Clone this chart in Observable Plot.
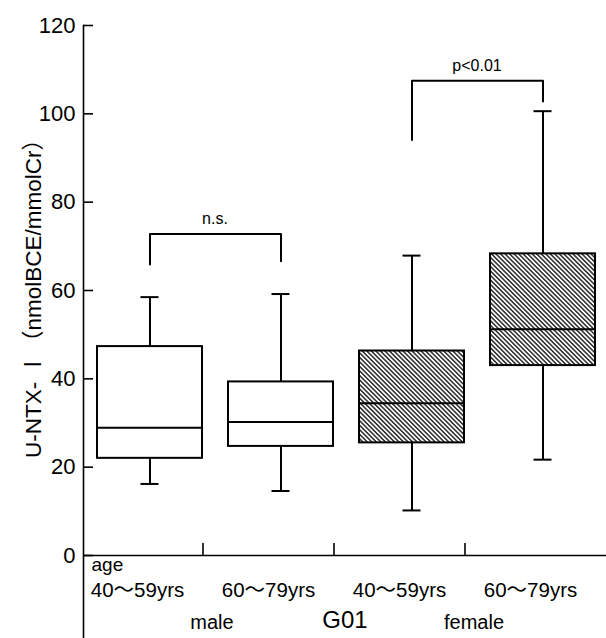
<!DOCTYPE html>
<html><head><meta charset="utf-8">
<script src="https://cdn.jsdelivr.net/npm/d3@7"></script>
<script src="https://cdn.jsdelivr.net/npm/@observablehq/plot@0.6"></script>
<style>body{margin:0;background:#fff}</style>
</head><body><div id="chart"></div>
<script>
// ---- data ----
const groupKeys   = ["M40", "M60", "F40", "F60"];
const sexLabels   = ["male", "male", "female", "female"];
const ageLabels   = ["40～59yrs", "60～79yrs", "40～59yrs", "60～79yrs"];
const whiskerLow  = [16.2, 14.6, 10.2, 21.7];
const q1          = [22.0, 24.7, 25.5, 43.0];
const median      = [28.9, 30.2, 34.5, 51.2];
const q3          = [47.3, 39.3, 46.3, 68.3];
const whiskerHigh = [58.5, 59.2, 67.9, 100.6];

const yTicks = [0, 20, 40, 60, 80, 100, 120];

const bracketFrom     = ["M40", "F40"];
const bracketTo       = ["M60", "F60"];
const bracketTop      = [72.8, 107.5];
const bracketLeftEnd  = [65.9, 94.1];
const bracketRightEnd = [66.6, 102.8];
const bracketLabels   = ["n.s.", "p<0.01"];

const groupNames = ["male", "female"];
const groupFirst = ["M40", "F40"];

const yTitle = "U-NTX- Ⅰ（nmolBCE/mmolCr）";
const xTitle = "G01";
const ageHeader = "age";

// ---- tables built from the arrays ----
const rows = groupKeys.map((key, i) => ({
  key, sex: sexLabels[i], age: ageLabels[i],
  lo: whiskerLow[i], q1: q1[i], med: median[i], q3: q3[i], hi: whiskerHigh[i]
}));
const bracketPts = bracketFrom.flatMap((f, i) => [
  {id: i, x: f, y: bracketLeftEnd[i]},
  {id: i, x: f, y: bracketTop[i]},
  {id: i, x: bracketTo[i], y: bracketTop[i]},
  {id: i, x: bracketTo[i], y: bracketRightEnd[i]}
]);
const bracketText = bracketFrom.map((f, i) => ({x: f, y: bracketTop[i], label: bracketLabels[i]}));
const groups = groupNames.map((g, i) => ({name: g, first: groupFirst[i]}));

const svg = Plot.plot({
  width: 606,
  height: 638,
  marginTop: 25,
  marginLeft: 83,
  marginRight: 0,
  marginBottom: 0,
  style: {fontFamily: "'Liberation Sans', 'Noto Sans CJK JP', sans-serif", background: "white", color: "black"},
  x: {type: "band", domain: groupKeys, range: [83, 608], paddingInner: 0.2, paddingOuter: 0.1, axis: null},
  y: {domain: [0, 120], range: [555, 25]},
  marks: [
    Plot.frame({anchor: "left", stroke: "black", strokeWidth: 1.6}),
    Plot.ruleY([0], {stroke: "black", strokeWidth: 1.6}),
    Plot.axisY(yTicks, {tickSize: -10, tickPadding: 18, fontSize: 22, label: null, strokeWidth: 1.6, tickFormat: d => d}),
    Plot.ruleX(groupKeys.slice(1), {x: d => d, y1: 0, y2: 0, insetTop: -12, dx: -78, stroke: "black", strokeWidth: 1.6}),
    // whiskers
    Plot.ruleX(rows, {x: "key", y1: "lo", y2: "hi", stroke: "black", strokeWidth: 2}),
    Plot.tickY(rows, {x: "key", y: "lo", stroke: "black", strokeWidth: 2, insetLeft: 43.5, insetRight: 43.5}),
    Plot.tickY(rows, {x: "key", y: "hi", stroke: "black", strokeWidth: 2, insetLeft: 43.5, insetRight: 43.5}),
    // boxes
    Plot.barY(rows.filter(d => d.sex === "male"), {x: "key", y1: "q1", y2: "q3", fill: "white", stroke: "black", strokeWidth: 2}),
    Plot.barY(rows.filter(d => d.sex === "female"), {x: "key", y1: "q1", y2: "q3", fill: "url(#hatch)", stroke: "black", strokeWidth: 2}),
    Plot.tickY(rows, {x: "key", y: "med", stroke: "black", strokeWidth: 2}),
    // brackets
    Plot.line(bracketPts, {x: "x", y: "y", z: "id", stroke: "black", strokeWidth: 2}),
    Plot.text(bracketText, {x: "x", y: "y", text: "label", dx: 65, dy: -15, fontSize: 16}),
    // axis title and category table
    Plot.text([yTitle], {frameAnchor: "left", textAnchor: "middle", lineAnchor: "middle", rotate: -90, dx: -50, dy: -39, fontSize: 22.5, text: d => d}),
    Plot.text([ageHeader], {frameAnchor: "bottom-left", textAnchor: "start", lineAnchor: "middle", dx: 8, dy: -74, fontSize: 19, text: d => d}),
    Plot.text(rows, {x: "key", text: "age", frameAnchor: "bottom", lineAnchor: "middle", dx: -12.5, dy: -48, fontSize: 20.5}),
    Plot.text(groups, {x: "first", text: "name", frameAnchor: "bottom", lineAnchor: "middle", dx: 62, dy: -16, fontSize: 20}),
    Plot.text([xTitle], {frameAnchor: "bottom", lineAnchor: "middle", dy: -18, fontSize: 24, text: d => d})
  ]
});

const defs = d3.select(svg).insert("defs", ":first-child");
const pat = defs.append("pattern")
  .attr("id", "hatch")
  .attr("patternUnits", "userSpaceOnUse")
  .attr("width", 3.2).attr("height", 3.2)
  .attr("patternTransform", "rotate(45)");
pat.append("rect").attr("width", 3.2).attr("height", 3.2).attr("fill", "white");
pat.append("line").attr("x1", 0).attr("y1", 1.6).attr("x2", 3.2).attr("y2", 1.6)
  .attr("stroke", "#111").attr("stroke-width", 1.35);

document.getElementById("chart").appendChild(svg);
</script></body></html>
